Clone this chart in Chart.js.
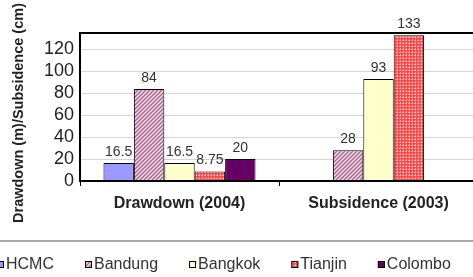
<!DOCTYPE html>
<html>
<head>
<meta charset="utf-8">
<script src="https://cdn.jsdelivr.net/npm/chart.js"></script>
<style>
html, body { margin: 0; padding: 0; overflow: hidden; background: #fff; }
#wrap { position: relative; width: 478px; height: 277px; }
</style>
</head>
<body>
<div id="wrap"><canvas id="chart"></canvas></div>
<script>
// values
const categories = ['Drawdown (2004)', 'Subsidence (2003)'];
const cities = ['HCMC', 'Bandung', 'Bangkok', 'Tianjin', 'Colombo'];
const hcmc = [16.5, null];
const bandung = [84, 28];
const bangkok = [16.5, 93];
const tianjin = [8.75, 133];
const colombo = [20, null];
const yTicks = [0, 20, 40, 60, 80, 100, 120];
const yMax = 135;
const yTitle = 'Drawdown (m)/Subsidence (cm)';

// fill patterns like the old Excel ones
function stripePattern() {
    const c = document.createElement('canvas');
    c.width = 4; c.height = 4;
    const g = c.getContext('2d');
    g.fillStyle = '#f4dcea';
    g.fillRect(0, 0, 4, 4);
    g.strokeStyle = '#a8628c';
    g.lineWidth = 1.3;
    g.beginPath();
    g.moveTo(0, 4); g.lineTo(4, 0);
    g.moveTo(-1, 1); g.lineTo(1, -1);
    g.moveTo(3, 5); g.lineTo(5, 3);
    g.stroke();
    return g.createPattern(c, 'repeat');
}

function checkPattern() {
    const c = document.createElement('canvas');
    c.width = 3; c.height = 3;
    const g = c.getContext('2d');
    g.fillStyle = '#ff4848';
    g.fillRect(0, 0, 3, 3);
    g.fillStyle = '#ffd8d8';
    g.fillRect(1, 1, 1, 1);
    g.fillStyle = '#ff9a9a';
    g.fillRect(0, 1, 1, 1);
    g.fillRect(1, 0, 1, 1);
    return g.createPattern(c, 'repeat');
}

const fills = ['#9999ff', stripePattern(), '#ffffcc', checkPattern(), '#660066'];
const series = [hcmc, bandung, bangkok, tianjin, colombo];

const plotFrame = {
    id: 'plotFrame',
    afterDraw(chart) {
        const a = chart.chartArea, ctx = chart.ctx;
        ctx.save();
        ctx.strokeStyle = '#000';
        ctx.lineWidth = 2;
        ctx.strokeRect(a.left, a.top, a.right - a.left, a.bottom - a.top);
        // axis title, sits a bit lower than the plot centre in the original
        ctx.translate(19, (a.top + a.bottom) / 2 + 6);
        ctx.rotate(-Math.PI / 2);
        ctx.font = 'bold 14.5px Arial';
        ctx.fillStyle = '#222';
        ctx.textAlign = 'center';
        ctx.textBaseline = 'middle';
        ctx.fillText(yTitle, 0, 0);
        ctx.restore();
    }
};

const valueLabels = {
    id: 'valueLabels',
    afterDatasetsDraw(chart) {
        const ctx = chart.ctx;
        ctx.save();
        ctx.font = '14px Arial';
        ctx.fillStyle = '#333';
        ctx.textAlign = 'center';
        ctx.textBaseline = 'alphabetic';
        chart.data.datasets.forEach((ds, i) => {
            chart.getDatasetMeta(i).data.forEach((bar, j) => {
                const v = ds.data[j];
                if (v == null) return;
                ctx.fillText(String(v), bar.x, bar.y - 7);
            });
        });
        ctx.restore();
    }
};

// legend strip at the bottom, the left end is cut off like in the picture
const bottomLegend = {
    id: 'bottomLegend',
    afterDraw(chart) {
        const ctx = chart.ctx;
        ctx.save();
        ctx.fillStyle = '#a6a6a6';
        ctx.fillRect(0, 240, chart.width, 2);
        ctx.font = '16px Arial';
        ctx.textBaseline = 'middle';
        let x = -3;
        const y = 265;
        chart.data.datasets.forEach(ds => {
            ctx.fillStyle = ds.backgroundColor;
            ctx.fillRect(x, y - 4, 7, 7);
            ctx.strokeStyle = '#000';
            ctx.lineWidth = 1;
            ctx.strokeRect(x + 0.5, y - 3.5, 6, 6);
            ctx.fillStyle = '#333';
            ctx.fillText(ds.label, x + 9, y);
            x += 9 + ctx.measureText(ds.label).width + 31;
        });
        ctx.restore();
    }
};

new Chart(document.getElementById('chart'), {
    type: 'bar',
    data: {
        labels: categories,
        datasets: cities.map((name, i) => ({
            label: name,
            data: series[i],
            backgroundColor: fills[i],
            borderColor: '#000',
            borderWidth: 1,
            categoryPercentage: 0.764,
            barPercentage: 1
        }))
    },
    options: {
        responsive: true,
        maintainAspectRatio: false,
        animation: false,
        layout: { padding: { top: 33, left: 0, right: 0, bottom: 0 } },
        plugins: {
            legend: { display: false },
            tooltip: { enabled: false }
        },
        scales: {
            x: {
                grid: { display: true, drawOnChartArea: false, drawTicks: true, tickLength: 5, color: '#000' },
                border: { display: true, color: '#000', width: 2 },
                ticks: { color: '#222', font: { family: 'Arial', size: 16, weight: 'bold' }, padding: 8 },
                afterFit(scale) { scale.height = 96; }
            },
            y: {
                min: 0,
                max: yMax,
                grid: { color: '#d4d4d4', drawTicks: false },
                border: { display: true, color: '#000', width: 2 },
                afterBuildTicks(scale) { scale.ticks = yTicks.map(v => ({ value: v })); },
                ticks: { color: '#222', font: { family: 'Arial', size: 18 }, padding: 6 },
                afterFit(scale) { scale.width = 80; }
            }
        }
    },
    plugins: [plotFrame, valueLabels, bottomLegend]
});
</script>
</body>
</html>
